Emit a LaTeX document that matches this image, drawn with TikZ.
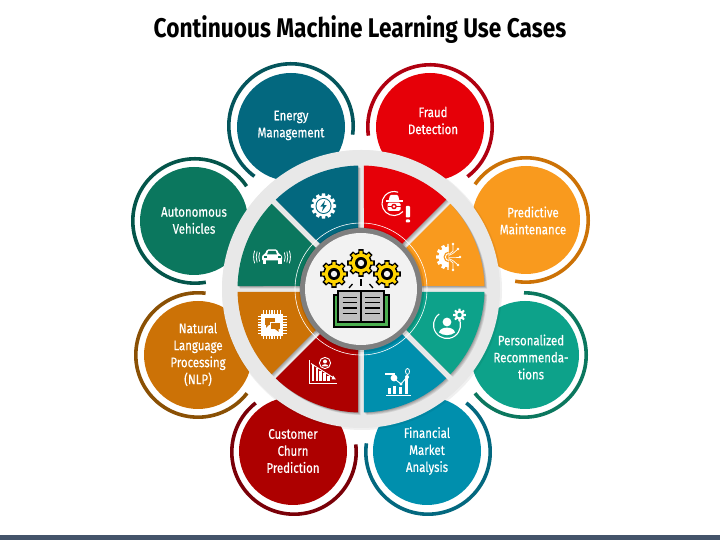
\documentclass[tikz,border=0pt]{standalone}
\usepackage{fontspec}
\setmainfont[FakeStretch=0.83,FakeBold=0.5]{Fira Sans}
\newfontfamily\titlefont[FakeStretch=0.84]{Fira Sans}
\definecolor{cEner}{HTML}{03687F}\definecolor{rEner}{HTML}{04555C}
\definecolor{cFrau}{HTML}{E60008}\definecolor{rFrau}{HTML}{B00010}
\definecolor{cPred}{HTML}{F99A1E}\definecolor{rPred}{HTML}{CC7206}
\definecolor{cPers}{HTML}{0DA28A}\definecolor{rPers}{HTML}{0B775E}
\definecolor{cFina}{HTML}{008FAD}\definecolor{rFina}{HTML}{03687F}
\definecolor{cCust}{HTML}{AD0000}\definecolor{rCust}{HTML}{7A0008}
\definecolor{cNatu}{HTML}{CC7206}\definecolor{rNatu}{HTML}{8A5004}
\definecolor{cAuto}{HTML}{0B775E}\definecolor{rAuto}{HTML}{04554A}
\definecolor{wheelgray}{HTML}{E8E8E8}
\definecolor{hubgray}{HTML}{7F7F7F}
\definecolor{hubfill}{HTML}{F2F2F2}
\definecolor{bargray}{HTML}{44546A}
\definecolor{gearyellow}{HTML}{FFD400}
\definecolor{bookgreen}{HTML}{4CAF50}
\definecolor{pagegray}{HTML}{BFBFBF}
\newcommand{\cogteeth}[4]{% colour, radius, count, half width
  \foreach \i in {1,...,#3}{\fill[#1,rotate={\i*360/#3}] (-#4,0) -- ({-0.7*#4},#2) -- ({0.7*#4},#2) -- (#4,0) -- cycle;}}
\newcommand{\disc}[2]{\fill[#1] (0,0) circle[radius=#2];}
\newcommand{\petal}[8]{% fill, ring colour, cx, cy, ring cx, ring cy, start, end
  \fill[#1] (#3,#4) circle[radius=54];
  \draw[ringline,#2] ([shift={(#7:62.2)}]#5,#6) arc[start angle=#7,end angle=#8,radius=62.2];}
\newcommand{\sectorshape}[3]{% start, end, extra options
  \fill[#3] ($(361,251)+({(#1+#2)/2}:7.84)$) -- ($(361,251)+({#1+1.39}:123.5)$) arc[start angle={#1+1.39},end angle={#2-1.39},radius=123.5] -- cycle;}
\newcommand{\sector}[3]{%
  \foreach \o in {2.6,1.9,1.2,0.6}{\begin{scope}[shift={(\o,-\o)}]\sectorshape{#1}{#2}{black,opacity=0.09}\end{scope}}
  \sectorshape{#1}{#2}{#3}}
\newcommand{\bigcog}[2]{%
  \begin{scope}[shift={(#1,#2)}]
    \cogteeth{black}{13.8}{8}{3.6}\disc{black}{11}
    \cogteeth{gearyellow}{12.2}{8}{2.1}\disc{gearyellow}{9.4}
    \disc{black}{6}\disc{hubfill}{3.2}
  \end{scope}}
\usetikzlibrary{calc}
\tikzset{
  petaltext/.style={text=white,align=center,font=\fontsize{13.8}{17}\selectfont,inner sep=0pt},
  ringline/.style={line width=3.6pt},
  icon/.style={white,line width=0.9pt},
  pageline/.style={black,line width=1.4pt},
  rayline/.style={black,line width=1.3pt}
}
\begin{document}
\begin{tikzpicture}[x=1pt,y=1pt]
\useasboundingbox (0,0) rectangle (720,540);
\fill[white] (0,0) rectangle (720,540);
\fill[bargray] (0,0) rectangle (720,5);
\node[inner sep=0pt,font=\titlefont\bfseries\fontsize{27}{30}\selectfont] (title) at (360,510.5) {Continuous Machine Learning Use Cases};
% petals
\petal{cEner}{rEner}{291}{413}{291}{414}{234}{-8}
\petal{cFrau}{rFrau}{430}{413}{430}{413}{188}{-53}
\petal{cPred}{rPred}{526}{320}{526}{320}{145}{-100}
\petal{cPers}{rPers}{525}{185}{524}{185}{90}{-142}
\petal{cFina}{rFina}{427}{89}{428}{88}{52}{-188}
\petal{cCust}{rCust}{293}{89}{294}{88}{128}{367}
\petal{cNatu}{rNatu}{198}{185}{198}{185}{83}{322}
\petal{cAuto}{rAuto}{194}{319}{195}{319}{34}{280}
\node[petaltext] (energy) at (291,414.5) {Energy\\Management};
\node[petaltext] (fraud) at (433,419.5) {Fraud\\Detection};
\node[petaltext] (predictive) at (533,319.5) {Predictive\\Maintenance};
\node[petaltext] (personal) at (531,183) {Personalized\\Recommenda-\\tions};
\node[petaltext] (financial) at (427,89) {Financial\\Market\\Analysis};
\node[petaltext] (customer) at (293,89) {Customer\\Churn\\Prediction};
\node[petaltext] (natural) at (198,185.5) {Natural\\Language\\Processing\\(NLP)};
\node[petaltext] (autonomous) at (194,319.5) {Autonomous\\Vehicles};
% wheel
\fill[black,opacity=0.06] (362,250) circle[radius=140];
\fill[wheelgray] (361,251) circle[radius=139];
\sector{45}{90}{cFrau}
\sector{0}{45}{cPred}
\sector{-45}{0}{cPers}
\sector{-90}{-45}{cFina}
\sector{-135}{-90}{cCust}
\sector{-180}{-135}{cNatu}
\sector{135}{180}{cAuto}
\sector{90}{135}{cEner}
\draw[white,line width=0.6pt] (361,251) circle[radius=66];
\fill[black,opacity=0.12] (361.6,250.4) circle[radius=62.5];
\fill[hubgray] (361,251) circle[radius=61];
\fill[hubfill] (361,251) circle[radius=56];
% hub icon
\bigcog{361}{277}
\bigcog{334}{266}
\bigcog{387}{266}
\draw[rayline] (361,254) -- (361,261);
\draw[rayline] (349,252) -- (352.5,256);
\draw[rayline] (373,252) -- (369.5,256);
\fill[black] (332.5,212) rectangle (389.5,246);
\fill[bookgreen] (334.5,214) rectangle (387.5,244);
\fill[black] (337,216.5) rectangle (385,250);
\fill[pagegray] (339,218.5) rectangle (360,248);
\fill[pagegray] (362,218.5) rectangle (383,248);
\foreach \yy in {242.5,237.5,232,226.5}{
  \draw[pageline] (342.5,\yy) -- (356.5,\yy);
  \draw[pageline] (365,\yy) -- (379.5,\yy);
}
% energy icon
\begin{scope}[shift={(323.5,334)}]
  \cogteeth{white}{12.6}{12}{2.4}\disc{white}{10.4}\disc{cEner}{8}\disc{white}{7}
  \fill[cEner] (1.6,5.4) -- (-3.2,-0.6) -- (-0.4,-0.6) -- (-1.6,-5.4) -- (3.2,0.8) -- (0.4,0.8) -- cycle;
\end{scope}
% fraud icon
\begin{scope}[shift={(394,336.5)}]
  \draw[icon,line width=1.1pt] (-42:12) arc[start angle=-42,end angle=-290,radius=12];
  \fill[white,rounded corners=1] (-5.5,2.5) -- (-4,8.5) -- (4,8.5) -- (5.5,2.5) -- cycle;
  \fill[white] (-8.5,1.5) rectangle (8.5,3);
  \fill[white,rounded corners=1.5] (-6.5,-7.5) rectangle (6.5,0.8);
  \fill[cFrau] (-6.5,-3.6) rectangle (6.5,-2.6);
  \fill[cFrau] (0,-3) circle[radius=2.8];
  \fill[white] (0,-3) circle[radius=1.3];
\end{scope}
\fill[white,rounded corners=0.8] (405.8,322.5) rectangle (410,334);
\fill[white,rounded corners=0.8] (405.8,317.5) rectangle (410,320.5);
% predictive icon
\begin{scope}[shift={(449,283)}]
  \begin{scope}
    \clip (-16,-16) rectangle (-0.5,16);
    \cogteeth{white}{13}{12}{2.3}\disc{white}{10.5}\disc{cPred}{5.5}
    \draw[white,line width=0.9pt] (0,0) circle[radius=3.6];
  \end{scope}
  \foreach \px/\py in {11/0,9/8,9/-8,4/13,4/-13}{
    \draw[white,line width=0.7pt] (0,{\py*0.2}) -- (4,{\py*0.45}) -- (\px,\py);
    \fill[white] (\px,\py) circle[radius=1.4];
  }
\end{scope}
% personalized icon
\begin{scope}[shift={(447,215)}]
  \draw[icon,line width=1.1pt] (35:13.5) arc[start angle=35,end angle=-235,radius=13.5];
  \fill[white] (0,3) circle[radius=4.4];
  \fill[white] (-8,-7.5) .. controls (-7,-1) and (7,-1) .. (8,-7.5) .. controls (4,-11) and (-4,-11) .. (-8,-7.5) -- cycle;
\end{scope}
\begin{scope}[shift={(459.5,225)}]
  \cogteeth{white}{6.4}{8}{1.4}\disc{white}{4.6}\disc{cPers}{2.2}
\end{scope}
% financial icon
\begin{scope}[shift={(398,157)}]
  \fill[white] (-12.5,-13) rectangle (12.5,-12);
  \foreach \bx/\bh in {-8.5/6,-3.5/8,2.5/7,8.5/16}{\fill[white] ({\bx-1.6},-11.5) rectangle ({\bx+1.6},{-11.5+\bh});}
  \draw[white,line width=0.9pt] (-4,4.5) -- (3,-1) -- (9,6);
  \fill[white] (-4,5) circle[radius=3.4];
  \fill[white] (3,-1) circle[radius=1.6];
  \fill[white] (9,6) circle[radius=2];
  \fill[white] (-13,8) rectangle (-3,9.5);
  \draw[white,line width=0.8pt] (9.5,11.5) ellipse[x radius=2,y radius=3];
\end{scope}
% customer icon
\begin{scope}[shift={(323,167)}]
  \draw[icon,line width=1.1pt] (-13.5,12.5) -- (-13.5,-10.5) -- (14,-10.5);
  \foreach \bx/\bh in {-10/16,-6.2/13,-2.4/10,1.4/7.5,5.2/5}{\fill[white] ({\bx-1.3},-8) rectangle ({\bx+1.3},{-8+\bh});}
  \draw[icon] (-12,9.5) -- (10,-4.5);
  \fill[white] (13,-6.5) -- (8.5,-6.5) -- (10,-2.5) -- cycle;
  \draw[icon] (2,10) circle[radius=5.6];
  \fill[white] (2,11.5) circle[radius=2];
  \fill[white] (-1.5,6.5) .. controls (-1,9.5) and (5,9.5) .. (5.5,6.5) -- cycle;
\end{scope}
% nlp icon
\begin{scope}[shift={(272,215)}]
  \foreach \t in {-8.4,-5.6,-2.8,0,2.8,5.6,8.4}{
    \fill[white] (\t-0.55,-14.5) rectangle (\t+0.55,14.5);
    \fill[white] (-14.5,\t-0.55) rectangle (14.5,\t+0.55);
  }
  \fill[cNatu] (-11.4,-11.4) rectangle (11.4,11.4);
  \fill[white] (-10.6,-10.6) rectangle (10.6,10.6);
  \fill[cNatu] (-7.5,-0.5) rectangle (3,6.5);
  \fill[cNatu] (-6,0) -- (-6,-3) -- (-3,0) -- cycle;
  \fill[white] (-2.2,-5) rectangle (8.6,3.2);
  \fill[cNatu] (-1.2,-4) rectangle (7.6,2.2);
  \fill[cNatu] (3,-4) -- (6.5,-6.8) -- (6.5,-4) -- cycle;
\end{scope}
% car icon
\begin{scope}[shift={(272,283)}]
  \fill[white,rounded corners=1.2] (-10,-3.5) -- (-10,1.5) -- (-7,3) -- (-5,7.5) -- (5,7.5) -- (7,3) -- (10,1.5) -- (10,-3.5) -- cycle;
  \fill[white] (-9.5,-7) rectangle (-6,-3);
  \fill[white] (6,-7) rectangle (9.5,-3);
  \fill[cAuto] (-5,2.5) -- (-3.6,6) -- (3.6,6) -- (5,2.5) -- cycle;
  \fill[cAuto] (-8.5,-1) rectangle (-5.5,0.6);
  \fill[cAuto] (5.5,-1) rectangle (8.5,0.6);
  \foreach \r in {13.2,15.8,18.4}{
    \draw[white,line width=0.8pt] (-20:\r) arc[start angle=-20,end angle=20,radius=\r];
    \draw[white,line width=0.8pt] (160:\r) arc[start angle=160,end angle=200,radius=\r];
  }
\end{scope}
\end{tikzpicture}
\end{document}
